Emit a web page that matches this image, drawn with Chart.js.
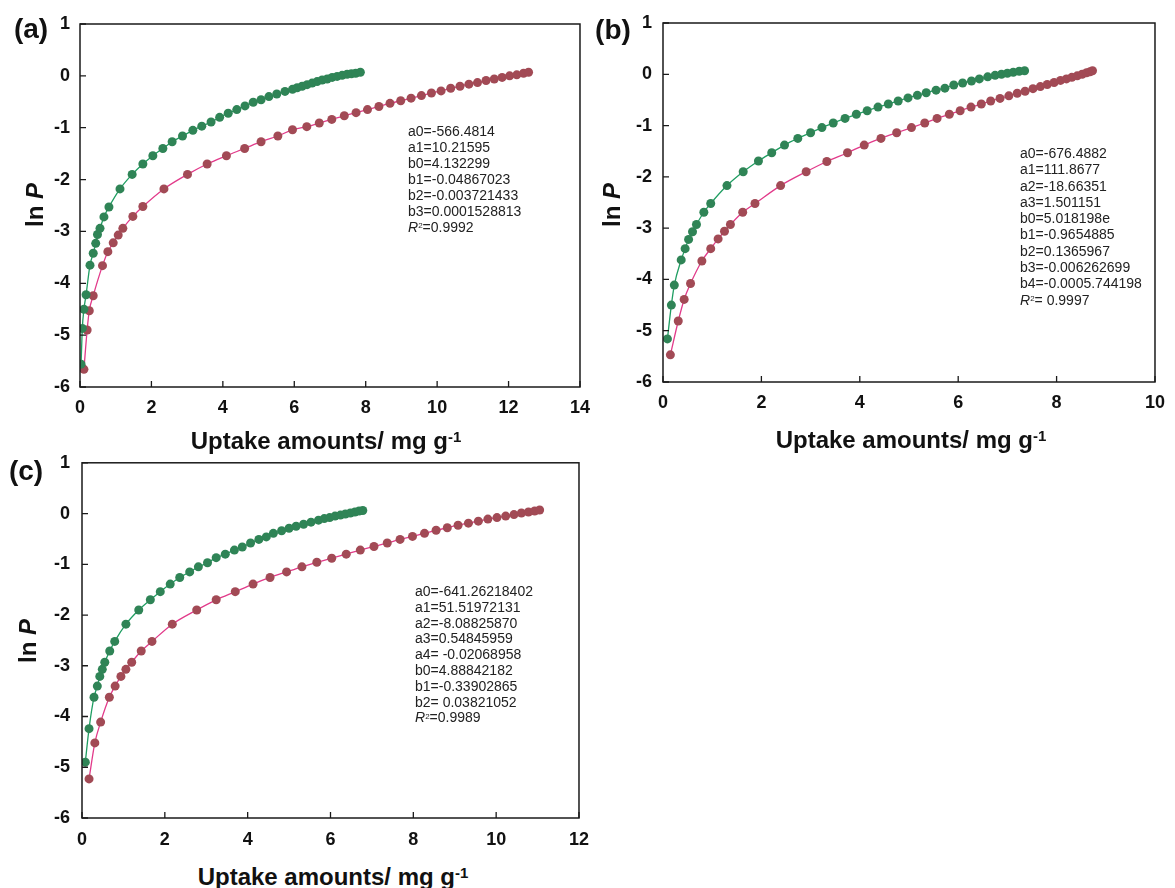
<!DOCTYPE html>
<html>
<head>
<meta charset="utf-8">
<script src="https://cdn.jsdelivr.net/npm/chart.js@4.4.1/dist/chart.umd.min.js"></script>
<style>
  html, body { margin:0; padding:0; background:#ffffff; }
  body { width:1175px; height:888px; position:relative; overflow:hidden; font-family:"Liberation Sans", Arial, sans-serif; }
  .panel { position:absolute; }
  .panel canvas { display:block; }
  .lbl { position:absolute; font-weight:bold; font-size:28px; line-height:28px; transform:translate(-50%,-50%); color:#111; }
  .xt { position:absolute; font-weight:bold; font-size:24px; line-height:24px; transform:translateX(-50%); white-space:nowrap; color:#111; }
  .xt sup { font-size:15px; vertical-align:top; position:relative; top:-4px; }
  .yt { position:absolute; font-weight:bold; font-size:24px; line-height:24px; transform:translate(-50%,-50%) rotate(-90deg); white-space:nowrap; color:#111; }
  .ann { position:absolute; font-size:14px; color:#222; white-space:nowrap; }
  .ann sup { font-size:8px; vertical-align:top; position:relative; top:-1px; }
</style>
</head>
<body>
<div class="panel" id="pa" style="left:0px;top:0px;width:600px;height:425px;"><canvas id="ca" width="600" height="425"></canvas></div>
<div class="panel" id="pb" style="left:590px;top:0px;width:585px;height:420px;"><canvas id="cb" width="585" height="420"></canvas></div>
<div class="panel" id="pc" style="left:0px;top:440px;width:600px;height:418px;"><canvas id="cc" width="600" height="418"></canvas></div>

<div class="lbl" style="left:31px;top:29px;">(a)</div>
<div class="lbl" style="left:613px;top:30px;">(b)</div>
<div class="lbl" style="left:26px;top:471px;">(c)</div>

<div class="yt" style="left:35px;top:205px;">ln <i>P</i></div>
<div class="yt" style="left:612px;top:205px;">ln <i>P</i></div>
<div class="yt" style="left:28px;top:641px;">ln <i>P</i></div>

<div class="xt" style="left:326px;top:429px;">Uptake amounts/ mg g<sup>-1</sup></div>
<div class="xt" style="left:911px;top:428px;">Uptake amounts/ mg g<sup>-1</sup></div>
<div class="xt" style="left:333px;top:865px;">Uptake amounts/ mg g<sup>-1</sup></div>

<div class="ann" style="left:408px;top:123px;line-height:16px;">a0=-566.4814<br>a1=10.21595<br>b0=4.132299<br>b1=-0.04867023<br>b2=-0.003721433<br>b3=0.0001528813<br><i>R</i><sup>2</sup>=0.9992</div>
<div class="ann" style="left:1020px;top:145px;line-height:16.3px;">a0=-676.4882<br>a1=111.8677<br>a2=-18.66351<br>a3=1.501151<br>b0=5.018198e<br>b1=-0.9654885<br>b2=0.1365967<br>b3=-0.006262699<br>b4=-0.0005.744198<br><i>R</i><sup>2</sup>= 0.9997</div>
<div class="ann" style="left:415px;top:584px;line-height:15.8px;">a0=-641.26218402<br>a1=51.51972131<br>a2=-8.08825870<br>a3=0.54845959<br>a4= -0.02068958<br>b0=4.88842182<br>b1=-0.33902865<br>b2= 0.03821052<br><i>R</i><sup>2</sup>=0.9989</div>

<script>
// ---------- Panel (a) ----------
const aGreenX = [0.03,0.065,0.11,0.17,0.28,0.37,0.44,0.49,0.56,0.67,0.81,1.12,1.46,1.76,2.04,2.32,2.58,2.87,3.16,3.41,3.67,3.91,4.15,4.39,4.62,4.85,5.07,5.29,5.51,5.74,5.95,6.08,6.22,6.36,6.50,6.64,6.78,6.92,7.06,7.20,7.34,7.48,7.60,7.72,7.85];
const aGreenY = [-5.56,-4.87,-4.50,-4.22,-3.65,-3.42,-3.23,-3.06,-2.94,-2.72,-2.53,-2.18,-1.90,-1.70,-1.54,-1.40,-1.27,-1.16,-1.05,-0.97,-0.89,-0.80,-0.72,-0.65,-0.58,-0.51,-0.46,-0.40,-0.35,-0.30,-0.26,-0.23,-0.20,-0.17,-0.14,-0.11,-0.08,-0.06,-0.03,-0.01,0.01,0.03,0.04,0.05,0.07];
const aRedX = [0.11,0.20,0.26,0.37,0.63,0.78,0.93,1.07,1.20,1.48,1.76,2.35,3.01,3.56,4.10,4.61,5.07,5.54,5.95,6.35,6.70,7.05,7.40,7.73,8.05,8.37,8.68,8.98,9.27,9.56,9.84,10.11,10.38,10.64,10.89,11.13,11.37,11.60,11.82,12.03,12.23,12.42,12.56];
const aRedY = [-5.66,-4.90,-4.53,-4.24,-3.66,-3.39,-3.22,-3.07,-2.94,-2.71,-2.52,-2.18,-1.90,-1.70,-1.54,-1.40,-1.27,-1.16,-1.04,-0.98,-0.91,-0.84,-0.77,-0.71,-0.65,-0.59,-0.53,-0.48,-0.43,-0.38,-0.33,-0.29,-0.24,-0.20,-0.16,-0.13,-0.09,-0.06,-0.03,0.00,0.02,0.05,0.07];

// ---------- Panel (b) ----------
const bGreenX = [0.09,0.17,0.23,0.37,0.45,0.52,0.60,0.68,0.83,0.97,1.30,1.63,1.94,2.21,2.47,2.74,3.00,3.23,3.46,3.70,3.93,4.15,4.37,4.58,4.78,4.98,5.17,5.35,5.55,5.73,5.91,6.09,6.27,6.43,6.60,6.75,6.88,7.00,7.12,7.24,7.35];
const bGreenY = [-5.16,-4.50,-4.11,-3.62,-3.40,-3.22,-3.07,-2.93,-2.69,-2.52,-2.17,-1.90,-1.69,-1.53,-1.38,-1.25,-1.14,-1.04,-0.95,-0.86,-0.78,-0.71,-0.64,-0.58,-0.52,-0.46,-0.41,-0.36,-0.31,-0.27,-0.21,-0.17,-0.13,-0.09,-0.05,-0.02,0.00,0.02,0.04,0.06,0.07];
const bRedX = [0.15,0.31,0.43,0.56,0.79,0.97,1.12,1.25,1.37,1.62,1.87,2.39,2.91,3.33,3.75,4.09,4.43,4.75,5.05,5.32,5.57,5.82,6.04,6.26,6.47,6.66,6.85,7.03,7.20,7.36,7.52,7.67,7.81,7.95,8.08,8.20,8.31,8.42,8.52,8.61,8.68,8.73];
const bRedY = [-5.47,-4.81,-4.39,-4.08,-3.64,-3.40,-3.21,-3.06,-2.93,-2.69,-2.52,-2.17,-1.90,-1.70,-1.53,-1.38,-1.25,-1.14,-1.04,-0.95,-0.86,-0.78,-0.71,-0.64,-0.58,-0.52,-0.47,-0.42,-0.37,-0.33,-0.28,-0.24,-0.20,-0.16,-0.12,-0.09,-0.06,-0.03,0.00,0.03,0.05,0.07];

// ---------- Panel (c) ----------
const cGreenX = [0.08,0.17,0.29,0.37,0.43,0.49,0.55,0.67,0.79,1.06,1.37,1.65,1.89,2.13,2.36,2.60,2.81,3.03,3.24,3.46,3.68,3.87,4.07,4.27,4.45,4.62,4.82,5.00,5.17,5.35,5.53,5.71,5.85,5.98,6.11,6.24,6.36,6.48,6.59,6.69,6.78];
const cGreenY = [-4.90,-4.24,-3.62,-3.40,-3.21,-3.07,-2.93,-2.71,-2.52,-2.18,-1.90,-1.70,-1.54,-1.39,-1.26,-1.15,-1.05,-0.97,-0.87,-0.80,-0.72,-0.66,-0.58,-0.51,-0.46,-0.39,-0.34,-0.29,-0.25,-0.21,-0.17,-0.13,-0.10,-0.08,-0.05,-0.03,-0.01,0.01,0.03,0.05,0.06];
const cRedX = [0.17,0.31,0.45,0.66,0.80,0.94,1.06,1.20,1.43,1.69,2.18,2.77,3.24,3.70,4.13,4.54,4.94,5.31,5.67,6.03,6.38,6.72,7.05,7.37,7.68,7.98,8.27,8.55,8.82,9.08,9.33,9.57,9.80,10.02,10.23,10.43,10.61,10.78,10.93,11.05];
const cRedY = [-5.23,-4.52,-4.11,-3.62,-3.40,-3.21,-3.07,-2.93,-2.71,-2.52,-2.18,-1.90,-1.70,-1.54,-1.39,-1.26,-1.15,-1.05,-0.96,-0.88,-0.80,-0.72,-0.65,-0.58,-0.51,-0.45,-0.39,-0.33,-0.28,-0.23,-0.19,-0.15,-0.11,-0.08,-0.05,-0.02,0.01,0.03,0.05,0.07];

// Axis ranges and tick steps
const yMin = -6, yMax = 1, yStep = 1;
const xMaxA = 14, xMaxB = 10, xMaxC = 12, xStep = 2;

const GREEN_PT = '#2f8456';
const GREEN_LN = '#1f9e62';
const RED_PT = '#a24a55';
const RED_LN = '#e23a8a';
const FONT = '"Liberation Sans", Arial, sans-serif';

function pts(xs, ys){ return xs.map((x,i)=>({x:x, y:ys[i]})); }

const framePlugin = {
  id:'frame',
  afterDraw(chart){
    const ctx = chart.ctx, a = chart.chartArea;
    const xs = chart.scales.x, ys = chart.scales.y;
    ctx.save();
    ctx.strokeStyle = '#1a1a1a';
    ctx.lineWidth = 1.5;
    ctx.strokeRect(a.left, a.top, a.right - a.left, a.bottom - a.top);
    ctx.lineWidth = 1.3;
    ctx.beginPath();
    xs.ticks.forEach(t=>{
      const px = xs.getPixelForValue(t.value);
      ctx.moveTo(px, a.bottom); ctx.lineTo(px, a.bottom - 6);
    });
    ys.ticks.forEach(t=>{
      const py = ys.getPixelForValue(t.value);
      ctx.moveTo(a.left, py); ctx.lineTo(a.left + 6, py);
    });
    ctx.stroke();
    ctx.restore();
  }
};

function makeChart(id, gx, gy, rx, ry, xMax, yWidth, xHeight, pad, xPad, yPad){
  new Chart(document.getElementById(id), {
    type:'scatter',
    data:{ datasets:[
      { data:pts(gx,gy), showLine:true, borderColor:GREEN_LN, borderWidth:1.3,
        backgroundColor:GREEN_PT, pointBackgroundColor:GREEN_PT, pointBorderColor:GREEN_PT,
        pointRadius:4.5, pointBorderWidth:0, cubicInterpolationMode:'monotone' },
      { data:pts(rx,ry), showLine:true, borderColor:RED_LN, borderWidth:1.3,
        backgroundColor:RED_PT, pointBackgroundColor:RED_PT, pointBorderColor:RED_PT,
        pointRadius:4.5, pointBorderWidth:0, cubicInterpolationMode:'monotone' }
    ]},
    options:{
      responsive:false, animation:false, events:[],
      layout:{ padding: pad },
      plugins:{ legend:{display:false}, tooltip:{enabled:false} },
      scales:{
        x:{ type:'linear', min:0, max:xMax,
            ticks:{ stepSize:xStep, color:'#111', padding:xPad, font:{family:FONT, size:18, weight:'bold'}, maxRotation:0 },
            grid:{ display:false, drawTicks:false }, border:{display:false},
            afterFit(s){ s.height = xHeight; } },
        y:{ type:'linear', min:yMin, max:yMax,
            ticks:{ stepSize:yStep, color:'#111', padding:yPad, font:{family:FONT, size:18, weight:'bold'} },
            grid:{ display:false, drawTicks:false }, border:{display:false},
            afterFit(s){ s.width = yWidth; } }
      }
    },
    plugins:[framePlugin]
  });
}

makeChart('ca', aGreenX, aGreenY, aRedX, aRedY, xMaxA, 80, 38, {top:24, right:17, left:0, bottom:0}, 10, 10);
makeChart('cb', bGreenX, bGreenY, bRedX, bRedY, xMaxB, 73, 38, {top:23, right:13, left:0, bottom:0}, 10, 11);
makeChart('cc', cGreenX, cGreenY, cRedX, cRedY, xMaxC, 82, 40, {top:22, right:11, left:0, bottom:0}, 11, 12);
</script>
</body>
</html>
